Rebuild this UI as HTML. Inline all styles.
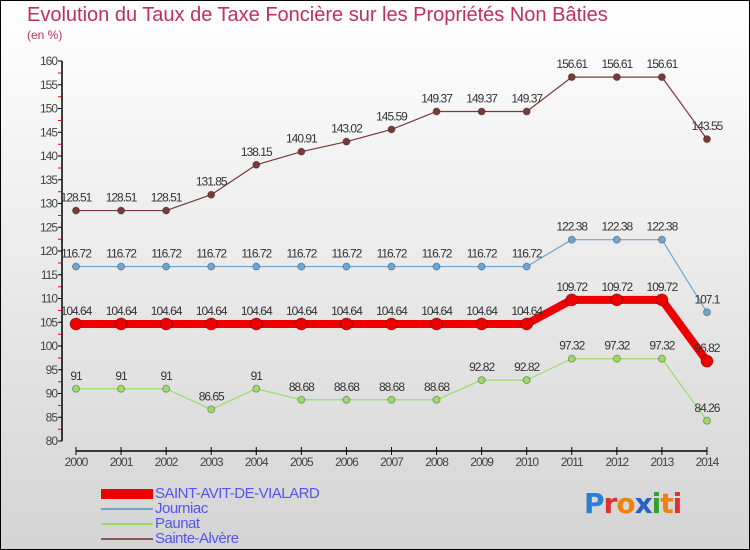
<!DOCTYPE html>
<html><head><meta charset="utf-8"><style>
body{margin:0}
#wrap{width:750px;height:550px;position:relative;box-sizing:border-box;border:1px solid #000;background:linear-gradient(#ffffff,#d4d4d4);font-family:"Liberation Sans",sans-serif;overflow:hidden}
.t{position:absolute;color:#c0305a}
.lg{position:absolute;color:#5555ee;font-size:15px;letter-spacing:-0.5px}
</style></head><body>
<div id="wrap">
<div class="t" style="left:26px;top:3px;font-size:20px">Evolution du Taux de Taxe Foncière sur les Propriétés Non Bâties</div>
<div class="t" style="left:26px;top:27px;font-size:12px">(en %)</div>
<svg id="ch" width="750" height="550" style="position:absolute;left:-1px;top:-1px"></svg>
<div>
<div style="position:absolute;left:100px;top:488px;width:52px;height:10px;background:#e00"></div>
<div class="lg" style="left:154px;top:484px">SAINT-AVIT-DE-VIALARD</div>
<div style="position:absolute;left:100px;top:507px;width:52px;height:2px;background:#6fa6d0"></div>
<div class="lg" style="left:154px;top:499px">Journiac</div>
<div style="position:absolute;left:100px;top:522px;width:52px;height:2px;background:#99dd66"></div>
<div class="lg" style="left:154px;top:514px">Paunat</div>
<div style="position:absolute;left:100px;top:537px;width:52px;height:2px;background:#8b5a5a"></div>
<div class="lg" style="left:154px;top:529px">Sainte-Alvère</div>
</div>
<div style="position:absolute;left:583px;top:486px;font-size:28px;font-family:'DejaVu Sans',sans-serif;font-weight:bold;letter-spacing:-1px"><span style="color:#2a7fd0">P</span><span style="color:#e03030">r</span><span style="color:#f08010">o</span><span style="color:#2a60c0">x</span><span style="color:#30a030">i</span><span style="color:#f08010">t</span><span style="color:#e03030">i</span></div>
</div>
<script>
const years=[2000,2001,2002,2003,2004,2005,2006,2007,2008,2009,2010,2011,2012,2013,2014];
const yTicks=[80,85,90,95,100,105,110,115,120,125,130,135,140,145,150,155,160];
const saintAvit=[104.64,104.64,104.64,104.64,104.64,104.64,104.64,104.64,104.64,104.64,104.64,109.72,109.72,109.72,96.82];
const journiac=[116.72,116.72,116.72,116.72,116.72,116.72,116.72,116.72,116.72,116.72,116.72,122.38,122.38,122.38,107.1];
const paunat=[91,91,91,86.65,91,88.68,88.68,88.68,88.68,92.82,92.82,97.32,97.32,97.32,84.26];
const sainteAlvere=[128.51,128.51,128.51,131.85,138.15,140.91,143.02,145.59,149.37,149.37,149.37,156.61,156.61,156.61,143.55];
const svg=document.getElementById('ch');const NS='http://www.w3.org/2000/svg';
const X=i=>76+i*45.07, Y=v=>61+(160-v)*4.75;
function mk(t,a,name){const e=document.createElementNS(NS,t);for(const k in a)e.setAttribute(k,a[k]);


svg.appendChild(e);return e;}
mk('line',{x1:62,y1:Y(160),x2:62,y2:Y(80),stroke:'#000','stroke-width':1.5},'y-axis');
yTicks.forEach(v=>{mk('line',{x1:58,y1:Y(v),x2:62,y2:Y(v),stroke:'#000'},'y-tick');
const r=mk('line',{x1:58,y1:Y(v)+12,x2:61,y2:Y(v)+12,stroke:'#e00'},'y-minor-tick');if(v==80)r.remove();
const t=mk('text',{x:57,y:Y(v)+4,'text-anchor':'end','font-size':12,fill:'#444','letter-spacing':'-1'},'y-tick-label');t.textContent=v;});
mk('line',{x1:X(0),y1:451,x2:X(14),y2:451,stroke:'#000','stroke-width':1.5},'x-axis');
years.forEach((y,i)=>{mk('line',{x1:X(i),y1:447,x2:X(i),y2:455,stroke:'#000'},'x-tick');
const t=mk('text',{x:X(i),y:466,'text-anchor':'middle','font-size':12,fill:'#444','letter-spacing':'-1'},'x-tick-label');t.textContent=y;});
function series(d,col,w,r,name){
mk('polyline',{points:d.map((v,i)=>X(i)+','+Y(v)).join(' '),fill:'none',stroke:col,'stroke-width':w,'stroke-linejoin':'round'},name+'-line');
d.forEach((v,i)=>{mk('circle',{cx:X(i),cy:Y(v),r:r,fill:col,stroke:'rgba(0,0,0,0.3)'},name+'-point');
const t=mk('text',{x:X(i),y:Y(v)-9,'text-anchor':'middle','font-size':12,fill:'#333','letter-spacing':'-1'},name+'-value');t.textContent=v;});}
series(sainteAlvere,'#7a3a3a',1.2,3.5,'sainte-alvere');
series(journiac,'#6fa6d0',1.2,3.5,'journiac');
series(paunat,'#99dd66',1.2,3.5,'paunat');
series(saintAvit,'#ee0000',8,6,'saint-avit');
</script>
</body></html>
